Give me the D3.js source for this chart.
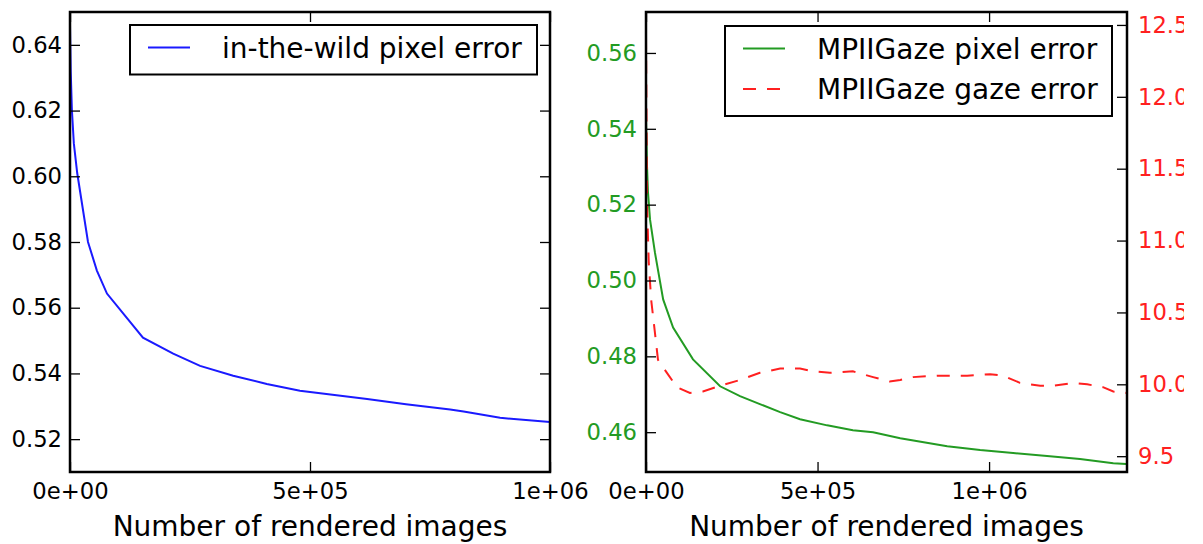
<!DOCTYPE html>
<html>
<head>
<meta charset="utf-8">
<script src="https://cdnjs.cloudflare.com/ajax/libs/d3/7.8.5/d3.min.js"></script>
<style>
  body { margin: 0; background: #fff; }
  svg { font-family: "DejaVu Sans", sans-serif; }
</style>
</head>
<body>
<script>
'use strict';

// ---- data ----
// left panel: in-the-wild pixel error
const wildX = [0, 1500, 4000, 8000, 15000, 37500, 56000, 77000, 152000, 215000, 271000,
  340000, 410000, 479000, 619000, 700000, 792000, 820000, 896000, 1000000];
const wildErr = [0.646, 0.632, 0.620, 0.610, 0.601, 0.580, 0.5713, 0.5643, 0.5509, 0.546, 0.5423,
  0.5393, 0.5368, 0.5347, 0.5322, 0.5306, 0.5290, 0.5284, 0.5265, 0.5252];

// right panel: MPIIGaze pixel error (left axis)
const mpiiX = [0, 3000, 5800, 11700, 26000, 50000, 79000, 137000, 216000, 274000, 332000,
  391000, 449000, 528000, 603000, 662000, 741000, 878000, 974000, 1070000, 1169000,
  1265000, 1362000, 1400000];
const mpiiPix = [0.543, 0.530, 0.5232, 0.5161, 0.5074, 0.4950, 0.4876, 0.4792, 0.4721, 0.4695, 0.4674,
  0.4653, 0.4634, 0.4618, 0.4605, 0.4600, 0.4584, 0.4563, 0.4553, 0.4545, 0.4537,
  0.4529, 0.4518, 0.4516];

// right panel: MPIIGaze gaze error (right axis)
const gazeX = [0, 3000, 8000, 15000, 26000, 35000, 61000, 90000, 128000, 166000, 216000,
  274000, 332000, 391000, 449000, 487000, 536000, 603000, 662000, 710000, 741000, 778000,
  848000, 936000, 1003000, 1041000, 1090000, 1149000, 1187000, 1245000, 1286000, 1332000,
  1362000, 1400000];
const gazeErr = [12.42, 11.25, 10.85, 10.59, 10.36, 10.17, 10.08, 9.98, 9.94, 9.95, 9.99,
  10.03, 10.08, 10.11, 10.11, 10.09, 10.08, 10.09, 10.05, 10.02, 10.03, 10.05,
  10.06, 10.06, 10.07, 10.06, 10.01, 9.99, 9.99, 10.01, 10.00, 9.98,
  9.95, 9.94];

// ticks
const xTicks = [0, 500000, 1000000];
const xTickLabels = ["0e+00", "5e+05", "1e+06"];
const wildTicks = [0.52, 0.54, 0.56, 0.58, 0.60, 0.62, 0.64];
const pixTicks = [0.46, 0.48, 0.50, 0.52, 0.54, 0.56];
const gazeTicks = [9.5, 10.0, 10.5, 11.0, 11.5, 12.0, 12.5];

const xLabel = "Number of rendered images";
const leftLegend = ["in-the-wild pixel error"];
const rightLegend = ["MPIIGaze pixel error", "MPIIGaze gaze error"];

// ---- layout ----
const W = 1203, H = 544;
const plotTop = 12, plotBottom = 472;
const left1 = 70, right1 = 550;
const left2 = 646, right2 = 1127;
const BLUE = "#1a1aff", GREEN = "#239b23", RED = "#ff2020";
const tickFont = "22.7px", labelFont = "28px";

const svg = d3.select("body").append("svg")
  .attr("width", W)
  .attr("height", H);

// scales
const x1 = d3.scaleLinear().domain([0, 1000000]).range([left1, right1]);
const y1 = d3.scaleLinear().domain([0.51, 0.65]).range([plotBottom, plotTop]);
const x2 = d3.scaleLinear().domain([0, 1402000]).range([left2, right2]);
const y2 = d3.scaleLinear().domain([0.4495, 0.5708]).range([plotBottom, plotTop]);
const y3 = d3.scaleLinear().domain([9.39, 12.59]).range([plotBottom, plotTop]);

const fmtX = (d) => xTickLabels[xTicks.indexOf(d)];

// draw an axis with inward ticks
function drawAxis(axis, tx, ty, color, pad, parent) {
  const g = (parent || svg).append("g")
    .attr("transform", `translate(${tx},${ty})`)
    .call(axis.tickSizeInner(-10).tickSizeOuter(0).tickPadding(pad));
  g.select(".domain").remove();
  g.selectAll(".tick line").attr("stroke", "#000").attr("stroke-width", 1.3);
  g.selectAll(".tick text")
    .attr("fill", color)
    .style("font-size", tickFont)
    .style("font-family", "DejaVu Sans");
  return g;
}

function spines(l, r) {
  svg.append("rect")
    .attr("x", l).attr("y", plotTop)
    .attr("width", r - l).attr("height", plotBottom - plotTop)
    .attr("fill", "none")
    .attr("stroke", "#000")
    .attr("stroke-width", 2.5);
}

function clip(id, x, y, w, h) {
  svg.append("clipPath").attr("id", id)
    .append("rect").attr("x", x).attr("y", y)
    .attr("width", w).attr("height", h);
}

function drawLine(xs, ys, xs_, ys_, color, dash, clipId) {
  const pts = xs.map((d, i) => [d, ys[i]]);
  svg.append("path")
    .datum(pts)
    .attr("clip-path", `url(#${clipId})`)
    .attr("fill", "none")
    .attr("stroke", color)
    .attr("stroke-width", 2)
    .attr("stroke-dasharray", dash)
    .attr("d", d3.line().x((d) => xs_(d[0])).y((d) => ys_(d[1])));
}

function legend(x, y, w, names, colors, dashes) {
  const rowH = 40.5;
  const h = 18 + rowH * names.length - 9;
  svg.append("rect")
    .attr("x", x).attr("y", y)
    .attr("width", w).attr("height", h)
    .attr("fill", "#fff")
    .attr("stroke", "#000")
    .attr("stroke-width", 2);
  names.forEach((name, i) => {
    const cy = y + 22.5 + i * rowH;
    svg.append("line")
      .attr("x1", x + 18).attr("x2", x + 60)
      .attr("y1", cy).attr("y2", cy)
      .attr("stroke", colors[i])
      .attr("stroke-width", 2)
      .attr("stroke-dasharray", dashes[i]);
    svg.append("text")
      .attr("x", x + 92).attr("y", cy)
      .attr("dy", "0.36em")
      .style("font-size", labelFont)
      .attr("fill", "#000")
      .text(name);
  });
}

// ---- left panel ----
clip("clip1", left1, plotTop, right1 - left1, plotBottom - plotTop);
drawLine(wildX, wildErr, x1, y1, BLUE, null, "clip1");
drawAxis(d3.axisLeft(y1).tickValues(wildTicks).tickFormat(d3.format(".2f")), left1, 0, "#000", 8);
drawAxis(d3.axisRight(y1).tickValues(wildTicks).tickFormat(""), right1, 0, "#000", 8);
drawAxis(d3.axisBottom(x1).tickValues(xTicks).tickFormat(fmtX), 0, plotBottom, "#000", 11);
drawAxis(d3.axisTop(x1).tickValues(xTicks).tickFormat(""), 0, plotTop, "#000", 8);
spines(left1, right1);
svg.append("text")
  .attr("x", (left1 + right1) / 2).attr("y", 536)
  .attr("text-anchor", "middle")
  .style("font-size", labelFont)
  .text(xLabel);
legend(130, 25, 407, leftLegend, [BLUE], [null]);

// ---- right panel ----
clip("clip2", left2, plotTop, right2 - left2, plotBottom - plotTop);
// the reference picture is cut off at the right edge of the red labels
clip("clipEdge", 0, 0, 1184, H);
drawLine(mpiiX, mpiiPix, x2, y2, GREEN, null, "clip2");
drawLine(gazeX, gazeErr, x2, y3, RED, "13,11", "clip2");
drawAxis(d3.axisLeft(y2).tickValues(pixTicks).tickFormat(d3.format(".2f")), left2, 0, GREEN, 9);
const edge = svg.append("g").attr("clip-path", "url(#clipEdge)");
drawAxis(d3.axisRight(y3).tickValues(gazeTicks).tickFormat(d3.format(".1f")), right2, 0, RED, 11, edge);
drawAxis(d3.axisBottom(x2).tickValues(xTicks).tickFormat(fmtX), 0, plotBottom, "#000", 11);
drawAxis(d3.axisTop(x2).tickValues(xTicks).tickFormat(""), 0, plotTop, "#000", 8);
spines(left2, right2);
svg.append("text")
  .attr("x", (left2 + right2) / 2).attr("y", 536)
  .attr("text-anchor", "middle")
  .style("font-size", labelFont)
  .text(xLabel);
legend(725, 26, 387, rightLegend, [GREEN, RED], [null, "13,11"]);
</script>
</body>
</html>
